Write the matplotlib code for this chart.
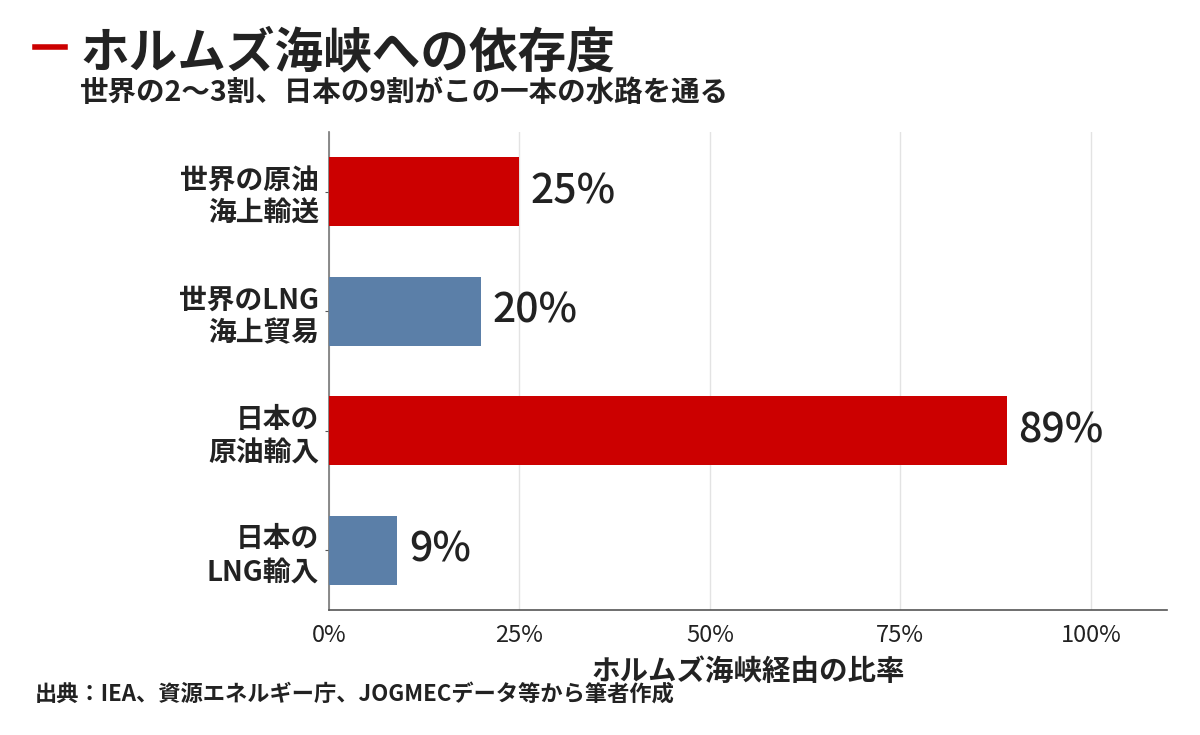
import numpy as np
import matplotlib.pyplot as plt
from matplotlib.ticker import FuncFormatter

plt.rcParams['font.family'] = ['Noto Sans CJK JP', 'DejaVu Sans']

# data
labels = ['世界の原油\n海上輸送', '世界のLNG\n海上貿易', '日本の\n原油輸入', '日本の\nLNG輸入']
values = [25, 20, 89, 9]
bar_colors = ['#CC0000', '#5B7FA8', '#CC0000', '#5B7FA8']
xticks = [0, 25, 50, 75, 100]

title = 'ホルムズ海峡への依存度'
subtitle = '世界の2〜3割、日本の9割がこの一本の水路を通る'
xlabel = 'ホルムズ海峡経由の比率'
source = '出典：IEA、資源エネルギー庁、JOGMECデータ等から筆者作成'

text_color = '#222222'

fig = plt.figure(figsize=(12, 7.35), dpi=100)
ax = fig.add_axes([0.274, 0.170, 0.6985, 0.6505])

y = np.arange(len(values))
ax.barh(y, values, height=0.58, color=bar_colors, zorder=3)

for yi, v in zip(y, values):
    ax.text(v + 1.5, yi, f'{v}%', va='center', ha='left', fontsize=29.5,
            fontweight=500, color=text_color)

ax.set_xlim(0, 110)
ax.set_ylim(3.5, -0.5)
ax.set_yticks(y)
ax.set_yticklabels(labels, fontsize=20, fontweight='bold', color=text_color,
                   linespacing=1.25)
ax.set_xticks(xticks)
ax.xaxis.set_major_formatter(FuncFormatter(lambda v, p: f'{v:.0f}%'))
ax.tick_params(axis='x', length=0, pad=10, labelsize=17, labelcolor=text_color)
ax.tick_params(axis='y', length=3, width=0.8, pad=4, color='#555555')

ax.grid(axis='x', color='#e3e3e3', linewidth=1, zorder=0)
for s in ['top', 'right']:
    ax.spines[s].set_visible(False)
ax.spines['left'].set_color('#777777')
ax.spines['bottom'].set_color('#555555')
ax.spines['left'].set_linewidth(1.2)
ax.spines['bottom'].set_linewidth(1.2)

ax.set_xlabel(xlabel, fontsize=20.5, fontweight='bold', color=text_color, labelpad=8)

# title block
fig.add_artist(plt.Line2D([35 / 1200, 65 / 1200], [1 - 47 / 735, 1 - 47 / 735],
                          color='#CC0000', linewidth=4))
fig.text(80 / 1200, 1 - 54 / 735, title, fontsize=35, fontweight='bold',
         color=text_color, va='center', ha='left')
fig.text(80 / 1200, 1 - 93 / 735, subtitle, fontsize=20.5, fontweight='bold',
         color=text_color, va='center', ha='left')
fig.text(35 / 1200, 1 - 695 / 735, source, fontsize=16, fontweight='bold',
         color=text_color, va='center', ha='left')

fig.savefig('out.png', dpi=100, facecolor='white')
